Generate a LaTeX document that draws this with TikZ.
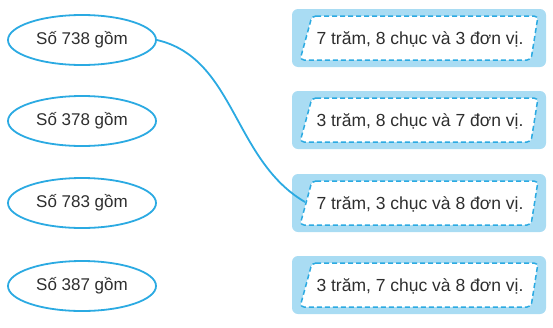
\documentclass[tikz,border=0pt]{standalone}
\usepackage{fontspec}
\setmainfont{Liberation Sans}
\usetikzlibrary{shapes.geometric}
\definecolor{lineblue}{HTML}{2BAAE2}
\definecolor{fillblue}{HTML}{A9DCF3}
\definecolor{txt}{HTML}{2E2E2E}
\begin{document}
\begin{tikzpicture}[x=1pt,y=-1pt,
  oval/.style={ellipse,draw=lineblue,line width=1.8pt,minimum width=148pt,minimum height=50pt,inner sep=0pt,text=txt,font=\fontsize{17}{20}\selectfont},
  outerbox/.style={fill=fillblue,rounded corners=6pt},
  innerbox/.style={draw=lineblue,fill=white,line width=1.5pt,dash pattern=on 5pt off 3pt,rounded corners=4pt},
  label/.style={text=txt,font=\fontsize{17.5}{20}\selectfont,inner sep=0pt}]
\useasboundingbox (0,0) rectangle (553,327);
% ellipses
\node[oval] (e1) at (82,40) {Số 738 gồm};
\node[oval] (e2) at (82,121) {Số 378 gồm};
\node[oval] (e3) at (82,203) {Số 783 gồm};
\node[oval] (e4) at (82,286) {Số 387 gồm};
% boxes
\foreach \cy/\name/\t in {38/b1/{7 trăm, 8 chục và 3 đơn vị.},120/b2/{3 trăm, 8 chục và 7 đơn vị.},203/b3/{7 trăm, 3 chục và 8 đơn vị.},285/b4/{3 trăm, 7 chục và 8 đơn vị.}}{
  \fill[outerbox] (292,\cy-29) rectangle (546,\cy+29);
  \draw[innerbox] (312,\cy-22) -- (538,\cy-22) -- (531,\cy+22) -- (300,\cy+22) -- cycle;
  \node[label] (\name) at (420,\cy+1) {\t};
}
\coordinate (c3) at (305,202);
\draw[lineblue,line width=1.8pt] (e1.east) .. controls (235,58) and (233,160) .. (c3);
\end{tikzpicture}
\end{document}
